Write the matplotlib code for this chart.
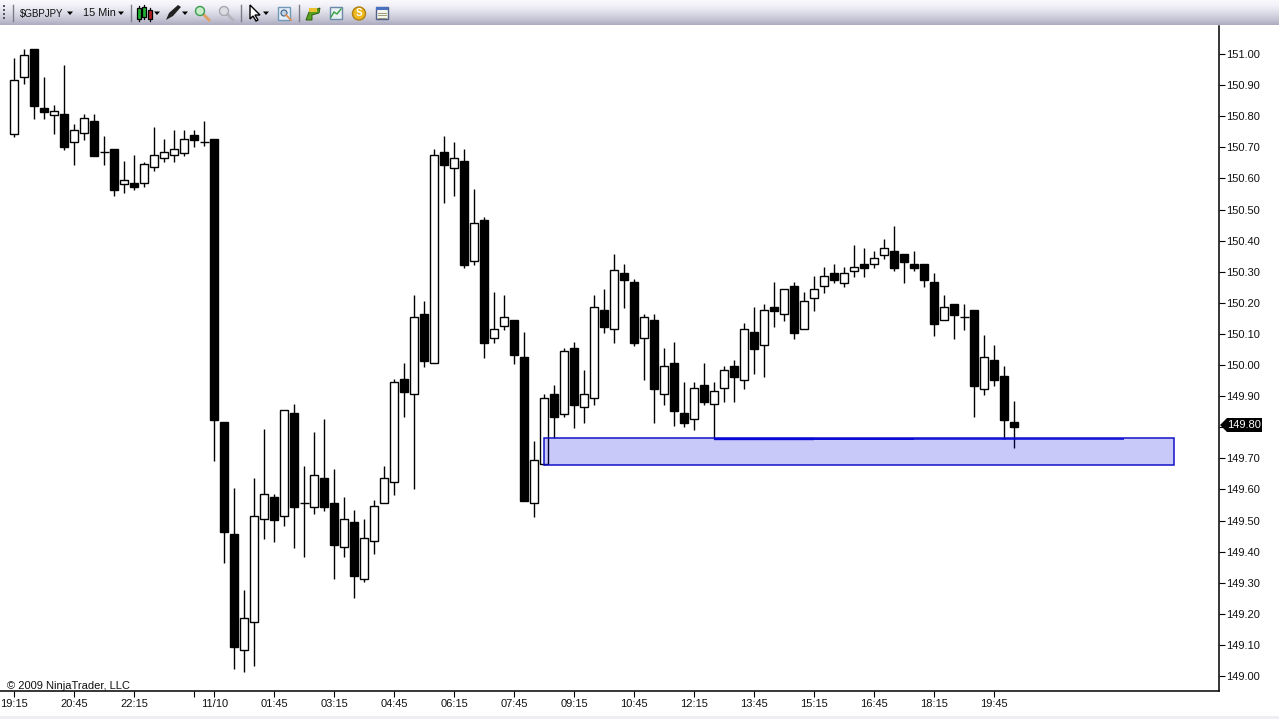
import numpy as np
import matplotlib
matplotlib.use("Agg")
import matplotlib.pyplot as plt
from matplotlib.patches import Rectangle, Polygon, Circle

plt.rcParams['font.family'] = ['Liberation Sans', 'DejaVu Sans']

# high, body top, body bottom, low; direction: 1 = up (hollow), 0 = down (filled)
highs = [150.987,151.016,151.016,150.926,150.836,150.965,150.775,150.807,150.807,150.736,
         150.695,150.656,150.675,150.653,150.765,150.727,150.756,150.756,150.756,150.785,
         150.727,149.817,149.605,149.277,149.637,149.794,149.585,149.855,149.875,149.675,
         149.785,149.827,149.666,149.576,149.534,149.505,149.566,149.675,149.955,150.007,
         150.225,150.206,150.695,150.736,150.717,150.695,150.566,150.476,150.235,150.225,
         150.145,150.106,149.756,149.907,149.936,150.055,150.074,149.984,150.225,150.244,
         150.357,150.325,150.277,150.164,150.164,150.055,150.074,149.945,149.945,150.007,
         149.945,149.997,150.016,150.135,150.187,150.196,150.267,150.244,150.267,150.235,
         150.286,150.315,150.325,150.315,150.386,150.376,150.367,150.405,150.447,150.357,
         150.367,150.325,150.296,150.225,150.196,150.196,150.177,150.097,150.064,149.997,
         149.884]
tops = [150.916,150.997,151.016,150.826,150.817,150.807,150.756,150.794,150.785,150.685,
        150.695,150.595,150.585,150.646,150.675,150.685,150.695,150.727,150.740,150.717,
        150.727,149.817,149.457,149.187,149.515,149.585,149.576,149.855,149.846,149.556,
        149.646,149.637,149.556,149.505,149.495,149.444,149.547,149.637,149.945,149.955,
        150.154,150.164,150.675,150.685,150.666,150.656,150.457,150.466,150.116,150.154,
        150.145,150.026,149.695,149.894,149.907,150.045,150.055,149.907,150.187,150.177,
        150.306,150.296,150.267,150.154,150.145,149.997,150.007,149.846,149.926,149.936,
        149.917,149.984,149.997,150.116,150.106,150.177,150.187,150.244,150.254,150.206,
        150.244,150.286,150.296,150.296,150.315,150.325,150.344,150.376,150.367,150.357,
        150.325,150.325,150.267,150.187,150.196,150.154,150.177,150.026,150.016,149.965,
        149.817]
bottoms = [150.743,150.926,150.833,150.814,150.804,150.701,150.717,150.746,150.672,150.685,
           150.563,150.582,150.572,150.585,150.637,150.666,150.675,150.682,150.724,150.717,
           149.823,149.463,149.094,149.084,149.174,149.505,149.502,149.515,149.544,149.556,
           149.544,149.544,149.421,149.415,149.322,149.312,149.434,149.556,149.624,149.913,
           149.907,150.013,150.007,150.643,150.633,150.322,150.334,150.071,150.087,150.126,
           150.032,149.563,149.556,149.682,149.833,149.843,149.872,149.865,149.894,150.122,
           150.116,150.273,150.071,150.087,149.923,149.907,149.852,149.814,149.827,149.881,
           149.875,149.926,149.962,149.952,150.052,150.064,150.174,150.164,150.103,150.116,
           150.216,150.254,150.273,150.264,150.302,150.312,150.325,150.354,150.312,150.331,
           150.312,150.273,150.132,150.145,150.161,150.154,149.933,149.923,149.952,149.823,
           149.801]
lows = [150.733,150.904,150.791,150.791,150.743,150.691,150.643,150.724,150.672,150.643,
        150.543,150.553,150.563,150.572,150.624,150.653,150.653,150.672,150.701,150.704,
        149.691,149.364,149.023,149.013,149.032,149.441,149.431,149.483,149.412,149.383,
        149.521,149.531,149.312,149.383,149.251,149.302,149.392,149.556,149.582,149.833,
        149.601,149.994,150.007,150.521,150.543,150.312,150.322,150.023,150.071,150.113,
        150.003,149.563,149.511,149.679,149.765,149.833,149.798,149.814,149.872,150.103,
        150.071,150.183,150.061,149.952,149.814,149.872,149.804,149.801,149.791,149.872,
        149.762,149.881,149.881,149.923,149.971,149.962,150.122,150.142,150.084,150.116,
        150.174,150.232,150.264,150.251,150.283,150.283,150.312,150.341,150.302,150.264,
        150.302,150.251,150.093,150.145,150.084,150.113,149.833,149.904,149.933,149.762,
        149.733]
up = [1,1,0,0,1,0,1,1,0,1,0,1,0,1,1,1,1,1,0,1,
      0,0,0,1,1,1,0,1,0,1,1,0,0,1,0,1,1,1,1,0,
      1,0,1,0,1,0,1,0,1,1,0,0,1,1,0,1,0,1,1,0,
      1,0,0,1,0,1,0,0,1,0,1,1,0,1,0,1,0,1,0,1,
      1,1,0,1,1,0,1,1,0,0,0,0,0,1,0,1,0,1,0,0,0]

y_ticks = [149.0, 149.1, 149.2, 149.3, 149.4, 149.5, 149.6, 149.7, 149.8, 149.9, 150.0,
           150.1, 150.2, 150.3, 150.4, 150.5, 150.6, 150.7, 150.8, 150.9, 151.0]
x_tick_pos = [0, 6, 12, 18, 20, 26, 32, 38, 44, 50, 56, 62, 68, 74, 80, 86, 92, 98]
x_tick_labels = ['19:15', '20:45', '22:15', '', '11/10', '01:45', '03:15', '04:45', '06:15',
                 '07:45', '09:15', '10:45', '12:15', '13:45', '15:15', '16:45', '18:15', '19:45']
zone_low, zone_high = 149.679, 149.765
line_level = 149.762
last_price = 149.80

W, H = 1279, 719
fig = plt.figure(figsize=(W / 100, H / 100), dpi=100, facecolor='white')
TXT = '#111111'
FS = 8.0

# price pane
ax = fig.add_axes([0, 1 - 691 / H, 1218.5 / W, (691 - 26) / H])
ax.set_xlim(-1.43, 120.42)
ax.set_ylim(148.952, 151.09)
for s in ('left', 'top'):
    ax.spines[s].set_visible(False)
for s in ('right', 'bottom'):
    ax.spines[s].set_linewidth(1.1)
    ax.spines[s].set_color('black')
ax.yaxis.tick_right()
ax.set_yticks(y_ticks)
# the 149.80 slot is covered by the last-price marker, which carries that text
ax.set_yticklabels(['' if abs(v - last_price) < 1e-6 else f'{v:.2f}' for v in y_ticks],
                   fontsize=FS, color=TXT)
ax.set_xticks(x_tick_pos)
ax.set_xticklabels(x_tick_labels, fontsize=FS, color=TXT)
ax.tick_params(axis='y', length=4.2, width=0.8, pad=1.2)
ax.tick_params(axis='x', length=4.2, width=0.8, pad=1.5)

# candles
for i, (h, t, b, l, u) in enumerate(zip(highs, tops, bottoms, lows, up)):
    ax.plot([i, i], [l, h], color='black', lw=1.0, solid_capstyle='butt', zorder=3)
    if abs(t - b) < 0.002:
        ax.plot([i - 0.45, i + 0.45], [t, t], color='black', lw=1.0, solid_capstyle='butt', zorder=4)
    else:
        ax.add_patch(Rectangle((i - 0.4, b), 0.8, t - b, facecolor='white' if u else 'black',
                               edgecolor='black', linewidth=1.0, zorder=4))

# support zone (translucent, over the candles) and level
ax.add_patch(Rectangle((53, zone_low), 63, zone_high - zone_low, facecolor=(0.0, 0.0, 0.9, 0.21),
                       edgecolor='#1212c8', linewidth=1.1, zorder=5))
for x0, x1, lw in ((70, 80, 1.7), (80, 90, 1.4), (90, 111, 1.1)):
    ax.plot([x0, x1], [line_level, line_level], color='#0808d8', lw=lw, solid_capstyle='butt', zorder=6)
ax.text(0.0055, 0.0005, '© 2009 NinjaTrader, LLC', transform=ax.transAxes, fontsize=FS,
        color=TXT, va='bottom', ha='left')

# last price marker and toolbar are drawn in a pixel overlay
ov = fig.add_axes([0, 0, 1, 1], facecolor='none')
ov.set_xlim(0, W)
ov.set_ylim(H, 0)
ov.axis('off')

ov.add_patch(Polygon([(1220, 425), (1227, 418), (1262, 418), (1262, 432), (1227, 432)],
                     closed=True, facecolor='black', edgecolor='none'))
ov.text(1244.5, 425, f'{last_price:.2f}', color='white', fontsize=FS, ha='center', va='center')

# toolbar gradient
grad = np.linspace(0, 1, 25)[:, None, None] ** 1.5
top_c = np.array([0.97, 0.97, 0.99])[None, None, :]
bot_c = np.array([0.68, 0.68, 0.76])[None, None, :]
ov.imshow(top_c + (bot_c - top_c) * grad, extent=(0, W, 25, 0), aspect='auto', zorder=1)
ov.set_xlim(0, W)
ov.set_ylim(H, 0)
ov.add_patch(Rectangle((0, 716), W, 3, facecolor='#eeeef3', edgecolor='none', zorder=2))

for y in (5, 9, 13, 17):
    ov.add_patch(Rectangle((3, y), 2, 2, facecolor='#555566', edgecolor='none', zorder=3))
for x in (13, 131, 241, 299):
    ov.plot([x, x], [5, 21], color='#7c7c8a', lw=1, zorder=3)
ov.text(20, 13.5, '$GBPJPY', fontsize=7.0, color=TXT, va='center', zorder=3)
ov.text(83, 13.5, '15 Min', fontsize=7.8, color=TXT, va='center', zorder=3)


def tri(x, y=13):
    ov.add_patch(Polygon([(x - 3, y - 1.5), (x + 3, y - 1.5), (x, y + 2)], closed=True,
                         facecolor='black', edgecolor='none', zorder=4))


for x in (70, 121, 157, 185, 266):
    tri(x)

# candle icon
for x, y0, y1, c in ((139, 8, 19, '#22b030'), (144, 7, 17, '#22b030'), (150, 10, 19, '#b02020')):
    ov.plot([x, x], [y0 - 2, y1 + 2], color='black', lw=0.9, zorder=3)
    ov.add_patch(Rectangle((x - 2, y0), 4, y1 - y0, facecolor=c, edgecolor='black', lw=0.9, zorder=4))
# pencil
ov.add_patch(Polygon([(166, 20), (169, 13), (178, 5), (181, 7), (173, 16)], closed=True,
                     facecolor='#222222', edgecolor='none', zorder=3))
# magnifiers
for x, c, e in ((200, '#c8ecc8', '#3a9a50'), (224, '#dddde4', '#a8a8b0')):
    ov.plot([x + 3, x + 9], [14, 20], color='#e0a060' if x == 200 else '#b4b4bc', lw=2, zorder=3)
    ov.add_patch(Circle((x, 11), 4.5, facecolor=c, edgecolor=e, lw=1, zorder=4))
# pointer
ov.add_patch(Polygon([(250, 5), (250, 19), (253, 16), (256, 21), (258, 20), (255, 15), (260, 15)],
                     closed=True, facecolor='white', edgecolor='black', lw=1.0, zorder=3))
# zoom box
ov.add_patch(Rectangle((278, 7), 12, 13, facecolor='#e4eef8', edgecolor='#7098b8', lw=1, zorder=3))
ov.add_patch(Circle((284, 13), 3, facecolor='#c0d4e8', edgecolor='#406080', lw=0.8, zorder=4))
ov.plot([286, 291], [15, 20], color='#e09050', lw=1.3, zorder=5)
# data arrows
ov.add_patch(Polygon([(306, 20), (309, 12), (320, 8), (319, 13), (312, 15), (312, 20)], closed=True,
                     facecolor='#58a020', edgecolor='#2d6010', lw=0.7, zorder=3))
ov.add_patch(Rectangle((309, 8), 8, 4, facecolor='#e8c030', edgecolor='none', zorder=3))
# chart icon
ov.add_patch(Rectangle((330, 7), 12, 12, facecolor='#e8f0f4', edgecolor='#6a8aa8', lw=1, zorder=3))
ov.plot([331, 334, 337, 341], [17, 12, 14, 9], color='#30a040', lw=1, zorder=4)
# coin
ov.add_patch(Circle((359, 13.5), 6.5, facecolor='#eeb820', edgecolor='#b08010', lw=1, zorder=3))
ov.text(359, 13.5, 'S', fontsize=7, fontweight='bold', color='white', ha='center', va='center', zorder=4)
# table icon
ov.add_patch(Rectangle((376, 7), 12, 12, facecolor='#f4f4e8', edgecolor='#50608a', lw=1, zorder=3))
ov.add_patch(Rectangle((376, 7), 12, 3, facecolor='#4a70c0', edgecolor='none', zorder=4))
for y in (12.5, 15, 17.5):
    ov.plot([378, 386], [y, y], color='#8a8a70', lw=0.6, zorder=4)

fig.savefig('out.png', dpi=100)
